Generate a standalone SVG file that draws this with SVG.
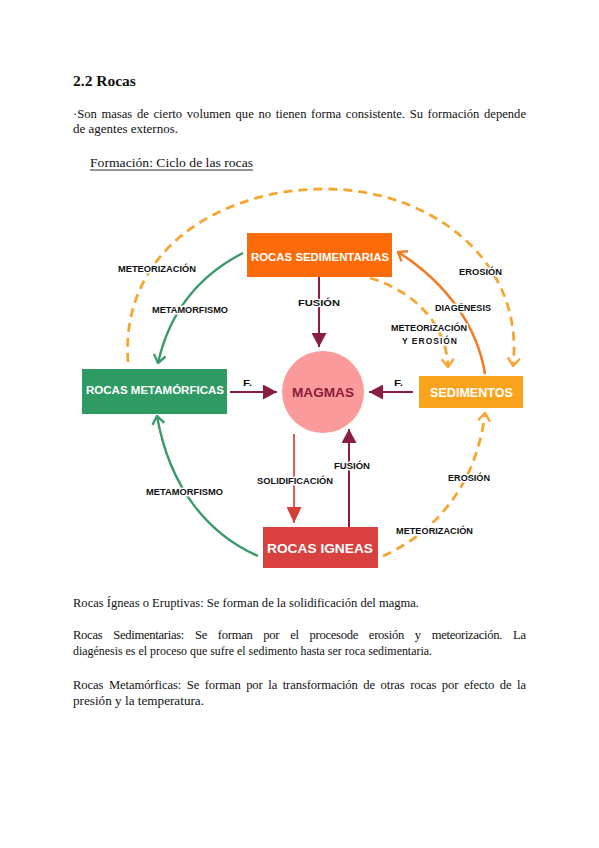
<svg xmlns="http://www.w3.org/2000/svg" width="599" height="848" viewBox="0 0 599 848">
<style>
.body{font-family:"Liberation Serif",serif;font-size:12.6px;fill:#111}
.h{font-family:"Liberation Serif",serif;font-size:15.5px;font-weight:bold;fill:#111}
.lbl{font-family:"Liberation Sans",Arial,sans-serif;font-size:8.5px;font-weight:bold;fill:#111;stroke:#fff;stroke-width:3px;paint-order:stroke;stroke-linejoin:round}
.nt{font-family:"Liberation Sans",Arial,sans-serif;font-weight:bold;fill:#fff}
.dash{fill:none;stroke:#f5a631;stroke-width:2.8;stroke-dasharray:9 6}
.grn{fill:none;stroke:#3a9a6a;stroke-width:2.4}
.mar{stroke:#8b1d45;stroke-width:2}
</style>
<defs>
<marker id="vOr" viewBox="0 0 10 14" refX="9" refY="7" markerWidth="10" markerHeight="14" orient="auto" markerUnits="userSpaceOnUse"><path d="M1,1 L9,7 L1,13" fill="none" stroke="#f5a631" stroke-width="2.4"/></marker>
<marker id="vOr2" viewBox="0 0 10 14" refX="9" refY="7" markerWidth="10" markerHeight="14" orient="auto" markerUnits="userSpaceOnUse"><path d="M1,1 L9,7 L1,13" fill="none" stroke="#f07b25" stroke-width="2.4"/></marker>
<marker id="vGr" viewBox="0 0 10 14" refX="9" refY="7" markerWidth="10" markerHeight="14" orient="auto" markerUnits="userSpaceOnUse"><path d="M1,1 L9,7 L1,13" fill="none" stroke="#3a9a6a" stroke-width="2.4"/></marker>
<marker id="tMar" viewBox="0 0 14 15" refX="14" refY="7.5" markerWidth="14" markerHeight="15" orient="auto" markerUnits="userSpaceOnUse"><path d="M0,0 L14,7.5 L0,15 Z" fill="#8b1d45"/></marker>
<marker id="tRed" viewBox="0 0 16 15" refX="16" refY="7.5" markerWidth="16" markerHeight="15" orient="auto" markerUnits="userSpaceOnUse"><path d="M0,0 L16,7.5 L0,15 Z" fill="#d43f3a"/></marker>
</defs>
<rect width="599" height="848" fill="#fff"/>

<g id="text">
<text class="h" x="73" y="86">2.2 Rocas</text>
<text class="body" x="73" y="118" word-spacing="1.5" textLength="453" lengthAdjust="spacing">·Son masas de cierto volumen que no tienen forma consistente. Su formación depende</text>
<text class="body" x="73" y="133" textLength="105" lengthAdjust="spacingAndGlyphs">de agentes externos.</text>
<text class="body" x="90" y="167" textLength="163" lengthAdjust="spacingAndGlyphs">Formación: Ciclo de las rocas</text>
<line x1="90" y1="170" x2="253" y2="170" stroke="#111" stroke-width="0.9"/>
<text class="body" x="73" y="607" textLength="346" lengthAdjust="spacingAndGlyphs">Rocas Ígneas o Eruptivas: Se forman de la solidificación del magma.</text>
<text class="body" x="73" y="639" word-spacing="8" textLength="453" lengthAdjust="spacing">Rocas Sedimentarias: Se forman por el procesode erosión y meteorización. La</text>
<text class="body" x="73" y="655" textLength="359" lengthAdjust="spacingAndGlyphs">diagénesis es el proceso que sufre el sedimento hasta ser roca sedimentaria.</text>
<text class="body" x="73" y="689" word-spacing="2.5" textLength="453" lengthAdjust="spacing">Rocas Metamórficas: Se forman por la transformación de otras rocas por efecto de la</text>
<text class="body" x="73" y="705" textLength="131" lengthAdjust="spacingAndGlyphs">presión y la temperatura.</text>
</g>

<g id="connectors">
<path class="dash" d="M128,362 C120,250 220,189 325,189 C430,189 525,260 513,366" marker-end="url(#vOr)"/>
<path class="dash" d="M370,278 C410,290 446,320 448,367" marker-end="url(#vOr)"/>
<path class="dash" d="M383,556 C430,535 476,490 485,413" marker-end="url(#vOr)"/>
<path d="M485,374 C478,330 450,285 398,252" fill="none" stroke="#f07b25" stroke-width="2.6" marker-end="url(#vOr2)"/>
<path class="grn" d="M243,253 C200,275 170,310 158,363" marker-end="url(#vGr)"/>
<path class="grn" d="M258,556 C210,535 170,490 157,416" marker-end="url(#vGr)"/>
<line class="mar" x1="319" y1="277" x2="319" y2="347" marker-end="url(#tMar)"/>
<line class="mar" x1="230" y1="392" x2="277" y2="392" marker-end="url(#tMar)"/>
<line class="mar" x1="413" y1="392" x2="369" y2="392" marker-end="url(#tMar)"/>
<line class="mar" x1="349" y1="527" x2="349" y2="429" marker-end="url(#tMar)"/>
<line x1="294" y1="434" x2="294" y2="523" stroke="#e05a55" stroke-width="2" marker-end="url(#tRed)"/>
<text class="lbl" x="118" y="272" textLength="78" lengthAdjust="spacingAndGlyphs">METEORIZACIÓN</text>
<text class="lbl" x="459" y="275" textLength="43" lengthAdjust="spacingAndGlyphs">EROSIÓN</text>
<text class="lbl" x="152" y="313" textLength="76" lengthAdjust="spacingAndGlyphs">METAMORFISMO</text>
<text class="lbl" x="298" y="306" textLength="42" lengthAdjust="spacingAndGlyphs">FUSIÓN</text>
<text class="lbl" x="435" y="311" textLength="56" lengthAdjust="spacingAndGlyphs">DIAGÉNESIS</text>
<text class="lbl" x="391" y="331" textLength="76" lengthAdjust="spacingAndGlyphs">METEORIZACIÓN</text>
<text class="lbl" x="402" y="344" textLength="55" lengthAdjust="spacing">Y   EROSIÓN</text>
<text class="lbl" x="243" y="386" textLength="9" lengthAdjust="spacingAndGlyphs">F.</text>
<text class="lbl" x="394" y="386" textLength="9" lengthAdjust="spacingAndGlyphs">F.</text>
<text class="lbl" x="334" y="469" textLength="36" lengthAdjust="spacingAndGlyphs">FUSIÓN</text>
<text class="lbl" x="448" y="481" textLength="42" lengthAdjust="spacingAndGlyphs">EROSIÓN</text>
<text class="lbl" x="257" y="484" textLength="76" lengthAdjust="spacingAndGlyphs">SOLIDIFICACIÓN</text>
<text class="lbl" x="146" y="495" textLength="77" lengthAdjust="spacingAndGlyphs">METAMORFISMO</text>
<text class="lbl" x="396" y="534" textLength="77" lengthAdjust="spacingAndGlyphs">METEORIZACIÓN</text>
</g>

<g id="sedimentarias">
<rect x="247" y="233" width="145" height="44" fill="#fd6b08"/>
<text class="nt" x="251" y="261" font-size="11" textLength="138" lengthAdjust="spacingAndGlyphs">ROCAS SEDIMENTARIAS</text>
</g>
<g id="metamorficas">
<rect x="82" y="369" width="145" height="45" fill="#2f9a63"/>
<text class="nt" x="86" y="394" font-size="11" textLength="138" lengthAdjust="spacingAndGlyphs">ROCAS METAMÓRFICAS</text>
</g>
<g id="magmas">
<circle cx="323" cy="392" r="41" fill="#fb9a9a"/>
<text x="292" y="397" font-family="Liberation Sans, Arial, sans-serif" font-weight="bold" font-size="13" fill="#8b1a3b" textLength="62" lengthAdjust="spacingAndGlyphs">MAGMAS</text>
</g>
<g id="sedimentos">
<rect x="419" y="376" width="104" height="32" fill="#faa31c"/>
<text class="nt" x="430" y="397" font-size="13" textLength="83" lengthAdjust="spacingAndGlyphs">SEDIMENTOS</text>
</g>
<g id="igneas">
<rect x="263" y="527" width="115" height="41" fill="#d8413f"/>
<text class="nt" x="267" y="553" font-size="13" textLength="106" lengthAdjust="spacingAndGlyphs">ROCAS IGNEAS</text>
</g>
</svg>
